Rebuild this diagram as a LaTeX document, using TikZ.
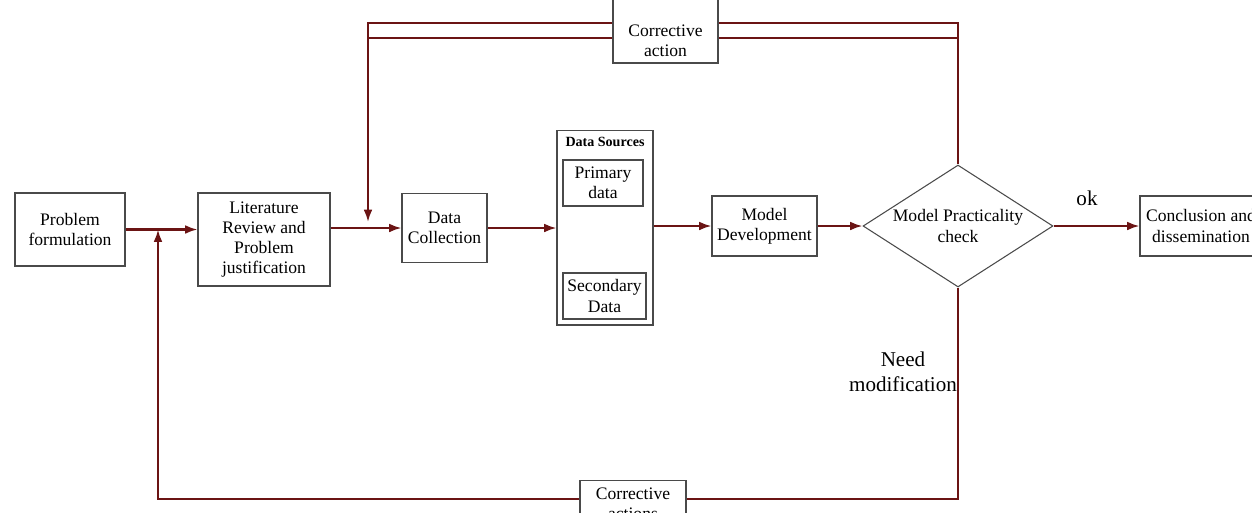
\documentclass[tikz,border=0pt]{standalone}
\usepackage{fontspec}
\setmainfont{Liberation Serif}
\usetikzlibrary{calc,arrows.meta,shapes.geometric}
\definecolor{flowred}{HTML}{6B1414}
\definecolor{edgegray}{HTML}{4A4A4A}
\tikzset{
  box/.style={draw=edgegray, fill=white, line width=0.6pt, align=center, inner sep=1pt, font=\fontsize{10}{11.5}\selectfont},
  flow/.style={draw=flowred, line width=1.2pt, -{Latex[length=7pt,width=5pt]}},
  wire/.style={draw=flowred, line width=1.2pt},
}

\begin{document}
\begin{tikzpicture}[x=0.02cm, y=-0.02cm]
    \useasboundingbox (0,0) rectangle (1252,512);

    \node[box, minimum width=2.2cm, minimum height=1.46cm] (prob) at (70,229.5) {Problem\\formulation};
    \node[box, minimum width=2.64cm, minimum height=1.86cm] (lit) at (264,239.5) {Literature\\Review and\\Problem\\justification};
    \node[box, minimum width=1.7cm, minimum height=1.38cm] (coll) at (444.5,228) {Data\\Collection};
    \node[box, minimum width=1.92cm, minimum height=3.9cm] (src) at (605,227.5) {};
    \node[font=\bfseries\fontsize{8}{9}\selectfont, anchor=north, inner sep=1pt] (srctitle) at ($(src.north)+(0,6)$) {Data Sources};
    \node[box, minimum width=1.6cm, minimum height=0.92cm] (prim) at (603,183) {Primary\\data};
    \node[box, minimum width=1.66cm, minimum height=0.92cm] (sec) at (604.5,296) {Secondary\\Data};
    \node[box, minimum width=2.1cm, minimum height=1.2cm] (dev) at (764.5,226) {Model\\Development};
    \node[box, diamond, aspect=1.56, minimum width=3.8cm, minimum height=2.44cm, inner sep=0pt] (chk) at (958,226) {Model Practicality\\check};
    \node[box, minimum width=2.44cm, minimum height=1.2cm] (concl) at (1201,226) {Conclusion and\\dissemination};

    \node[font=\fontsize{12}{14}\selectfont] (ok) at (1087,198) {ok};
    \node[font=\fontsize{12}{14}\selectfont, align=center] (need) at (903,372) {Need\\modification};

    \draw[flow] (prob.east) -- (prob.east -| lit.west);
    \draw[flow] (coll.west -| lit.east) -- (coll.west);
    \draw[flow] (coll.east) -- (coll.east -| src.west);
    \draw[flow] (src.east |- dev.west) -- (dev.west);
    \draw[flow] (dev.east) -- (chk.west);
    \draw[flow] (chk.east) -- (concl.west);

    \coordinate (upR) at (958,38);
    \coordinate (upL) at (368,38);
    \coordinate (dropL) at (368,222);
    \coordinate (ghostR) at (958,23);
    \coordinate (ghostL) at (368,23);
    \draw[flow] (chk.north) -- (upR) -- (upL) -- (dropL);
    \draw[wire] (upL) -- (ghostL) -- (ghostR) -- (upR);

    \coordinate (lowR) at (958,499);
    \coordinate (lowL) at (158,499);
    \draw[flow] (chk.south) -- (lowR) -- (lowL) -- (lowL |- prob.east);

    \path[draw=edgegray, fill=white, line width=0.6pt] (613,63) rectangle (718,-5);
    \node[font=\fontsize{10}{11.5}\selectfont, align=center] (fixtop) at (665.5,41) {Corrective\\action};
    \node[box, minimum width=2.12cm, minimum height=0.92cm, anchor=north] (fixlow) at (633,480) {Corrective\\actions};
\end{tikzpicture}
\end{document}
